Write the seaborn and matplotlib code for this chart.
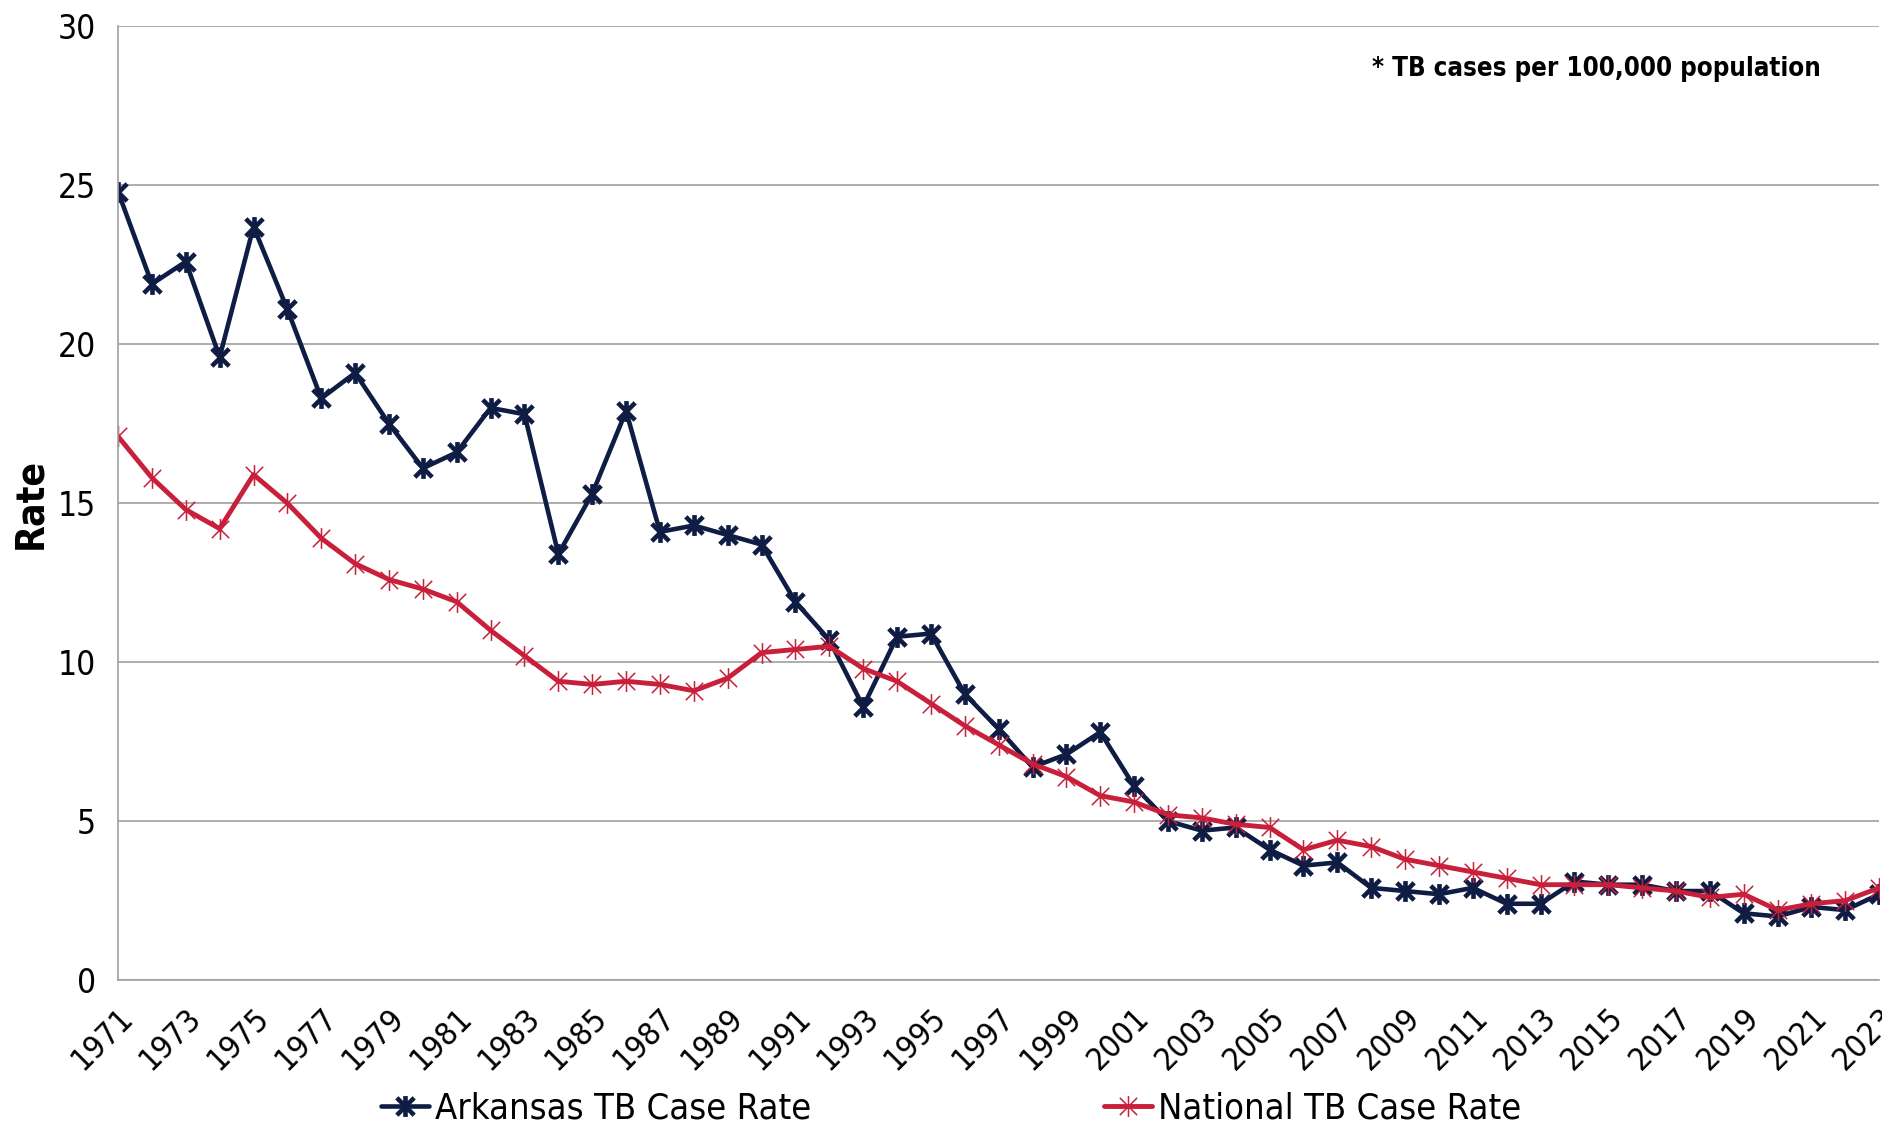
import numpy as np
import pandas as pd
import seaborn as sns
import matplotlib.pyplot as plt
from matplotlib.path import Path

years = list(range(1971, 2024))

arkansas_rate = [24.8, 21.9, 22.6, 19.6, 23.7, 21.1, 18.3, 19.1, 17.5, 16.1,
                 16.6, 18.0, 17.8, 13.4, 15.3, 17.9, 14.1, 14.3, 14.0, 13.7,
                 11.9, 10.7, 8.6, 10.8, 10.9, 9.0, 7.9, 6.7, 7.1, 7.8,
                 6.1, 5.0, 4.7, 4.8, 4.1, 3.6, 3.7, 2.9, 2.8, 2.7,
                 2.9, 2.4, 2.4, 3.1, 3.0, 3.0, 2.8, 2.8, 2.1, 2.0,
                 2.3, 2.2, 2.7]

national_rate = [17.1, 15.8, 14.8, 14.2, 15.9, 15.0, 13.9, 13.1, 12.6, 12.3,
                 11.9, 11.0, 10.2, 9.4, 9.3, 9.4, 9.3, 9.1, 9.5, 10.3,
                 10.4, 10.5, 9.8, 9.4, 8.7, 8.0, 7.4, 6.8, 6.4, 5.8,
                 5.6, 5.2, 5.1, 4.9, 4.8, 4.1, 4.4, 4.2, 3.8, 3.6,
                 3.4, 3.2, 3.0, 3.0, 3.0, 2.9, 2.8, 2.6, 2.7, 2.2,
                 2.4, 2.5, 2.9]

series_names = ['Arkansas TB Case Rate', 'National TB Case Rate']
y_ticks = [0, 5, 10, 15, 20, 25, 30]
note = '* TB cases per 100,000 population'

ark_df = pd.DataFrame({'Year': years, 'Rate': arkansas_rate})
nat_df = pd.DataFrame({'Year': years, 'Rate': national_rate})

# Excel style "star" marker: an x with a vertical bar through it
star = Path([(-1, -1), (1, 1), (-1, 1), (1, -1), (0, -1.2), (0, 1.2)],
            [Path.MOVETO, Path.LINETO, Path.MOVETO, Path.LINETO, Path.MOVETO, Path.LINETO])

sns.set_style('white')
plt.rcParams['font.family'] = ['DejaVu Sans']
plt.rcParams['font.stretch'] = 'condensed'
plt.rcParams['text.color'] = 'black'
plt.rcParams['axes.labelcolor'] = 'black'

navy = '#0f1d45'
red = '#c8203a'

fig = plt.figure(figsize=(18.83, 11.30), dpi=100)
ax = fig.add_axes([0.0627, 0.1327, 0.9353, 0.8439])

sns.lineplot(data=ark_df, x='Year', y='Rate', ax=ax, color=navy, linewidth=3.3,
             marker=star, markersize=15, markeredgewidth=3.3, markeredgecolor=navy,
             label=series_names[0])
sns.lineplot(data=nat_df, x='Year', y='Rate', ax=ax, color=red, linewidth=3.5,
             marker=star, markersize=15, markeredgewidth=1.1, markeredgecolor=red,
             label=series_names[1])

ax.set_xlim(1971, 2023)
ax.set_ylim(0, 30)
ax.set_yticks(y_ticks)
ax.set_yticklabels([str(t) for t in y_ticks], fontsize=24)
ax.set_xticks(years)
ax.set_xticklabels([str(y) if y % 2 == 1 else '' for y in years], fontsize=23,
                   rotation=45, ha='right', va='top', rotation_mode='anchor')

ax.yaxis.grid(True, color='#a0a0a0', linewidth=1.2)
ax.set_axisbelow(True)
for side in ['top', 'right']:
    ax.spines[side].set_visible(False)
for side in ['left', 'bottom']:
    ax.spines[side].set_color('#a0a0a0')
    ax.spines[side].set_linewidth(1.2)
ax.tick_params(axis='both', which='major', direction='out', length=10, width=1.2,
               color='#a0a0a0', pad=6, labelcolor='black')

ax.set_xlabel('')
ax.set_ylabel('Rate', fontsize=28, fontweight='bold', labelpad=6)

ax.text(0.967, 0.955, note, transform=ax.transAxes, ha='right', va='center',
        fontsize=18.5, fontweight='bold')

ax.legend(loc='lower center', bbox_to_anchor=(0.505, -0.012), bbox_transform=fig.transFigure,
          ncol=2, frameon=False, fontsize=26, columnspacing=8.1, handlelength=1.35,
          handletextpad=0.15, borderpad=0)

plt.savefig('out.png', dpi=100)
